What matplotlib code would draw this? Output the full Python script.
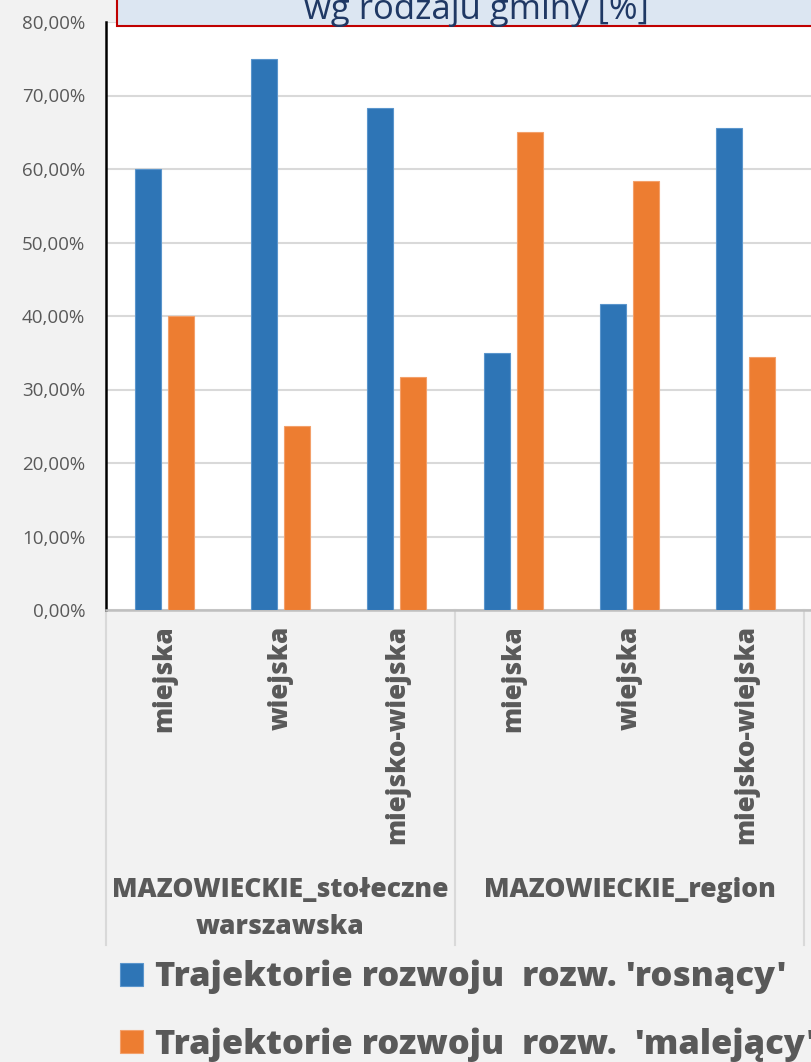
import matplotlib
matplotlib.use("Agg")
import matplotlib.pyplot as plt
from matplotlib.patches import Rectangle
from matplotlib.ticker import FuncFormatter
import matplotlib.transforms as mtransforms
import numpy as np

# ---- data ----
categories = ["miejska", "wiejska", "miejsko-wiejska",
              "miejska", "wiejska", "miejsko-wiejska"]
groups = ["MAZOWIECKIE_stołeczne\nwarszawska", "MAZOWIECKIE_region"]
rosnacy = [60.0, 75.0, 68.3, 35.0, 41.7, 65.6]
malejacy = [40.0, 25.0, 31.7, 65.0, 58.3, 34.4]
series_labels = ["Trajektorie rozwoju  rozw. 'rosnący'",
                 "Trajektorie rozwoju  rozw.  'malejący'"]
title = "wg rodzaju gminy [%]"
yticks = [0, 10, 20, 30, 40, 50, 60, 70, 80]

W, H = 811, 1062
BG = "#f2f2f2"
BLUE = "#2e75b6"
ORANGE = "#ed7d31"
GRAY = "#595959"
FONT = ["Open Sans", "DejaVu Sans"]
HEAVY = 800

plt.rcParams["font.family"] = FONT

fig = plt.figure(figsize=(W / 100, H / 100), dpi=100, facecolor=BG)

x0, x_axis_y, top_y = 106, 610, 22
ax = fig.add_axes([x0 / W, (H - x_axis_y) / H, 1 - x0 / W, (x_axis_y - top_y) / H])
ax.set_facecolor("white")

cat_w = 116.3
x = np.arange(len(categories))
bw = 0.222
off = 0.142
b1 = ax.bar(x - off, rosnacy, bw, color=BLUE, edgecolor="#5a95cc", linewidth=0.8, zorder=3)
b2 = ax.bar(x + off, malejacy, bw, color=ORANGE, edgecolor="#f3a06a", linewidth=0.8, zorder=3)

ax.set_xlim(-0.5, 5.5 + (W - 804) / cat_w)
ax.set_ylim(0, 80)
ax.set_yticks(yticks)
ax.yaxis.set_major_formatter(FuncFormatter(lambda v, p: f"{v:.2f}%".replace(".", ",")))
ax.tick_params(axis="y", length=0, pad=15, labelsize=13.5, labelcolor=GRAY)
ax.grid(axis="y", color="#d9d9d9", linewidth=1.5, zorder=0)
ax.set_axisbelow(True)

for s in ["top", "right"]:
    ax.spines[s].set_visible(False)
ax.spines["left"].set_color("black")
ax.spines["left"].set_linewidth(1.8)
ax.spines["bottom"].set_color("#bfbfbf")
ax.spines["bottom"].set_linewidth(1.8)

ax.set_xticks(x)
ax.set_xticklabels(categories, rotation=90, fontsize=18.8, fontweight=HEAVY,
                   color=GRAY, va="top", ha="center")
ax.tick_params(axis="x", length=0, pad=11)

ax_h_px = x_axis_y - top_y
trans = mtransforms.blended_transform_factory(ax.transData, ax.transAxes)
for xb in [-0.5, 2.5, 5.5]:
    ax.plot([xb, xb], [0, -(945 - x_axis_y) / ax_h_px], transform=trans,
            color="#d9d9d9", linewidth=1.5, clip_on=False)

group_centers = [1, 4]
for gc, gl in zip(group_centers, groups):
    ax.text(gc, -(877 - x_axis_y) / ax_h_px, gl, transform=trans, ha="center", va="top",
            fontsize=19, fontweight=HEAVY, color=GRAY, linespacing=1.55)

# title box (cropped at top)
rect = Rectangle((117 / W, (H - 26) / H), 1.0, 0.1, transform=fig.transFigure,
                 facecolor="#dce6f2", edgecolor="#c00000", linewidth=1.5,
                 zorder=5, clip_on=False)
fig.add_artist(rect)
fig.text(476 / W, 1 - 19 / H, title, ha="center", va="baseline", fontsize=25,
         color="#1f3864", zorder=6)

leg = fig.legend([b1, b2], series_labels, loc="upper left",
                 bbox_to_anchor=(120 / W, 1 - 960 / H), frameon=False,
                 handlelength=0.68, handleheight=0.68,
                 handletextpad=0.33, labelspacing=0.95, borderpad=0, borderaxespad=0,
                 prop={"weight": HEAVY, "size": 24.8})
for t in leg.get_texts():
    t.set_color(GRAY)

fig.savefig("out.png", dpi=100, facecolor=BG)
